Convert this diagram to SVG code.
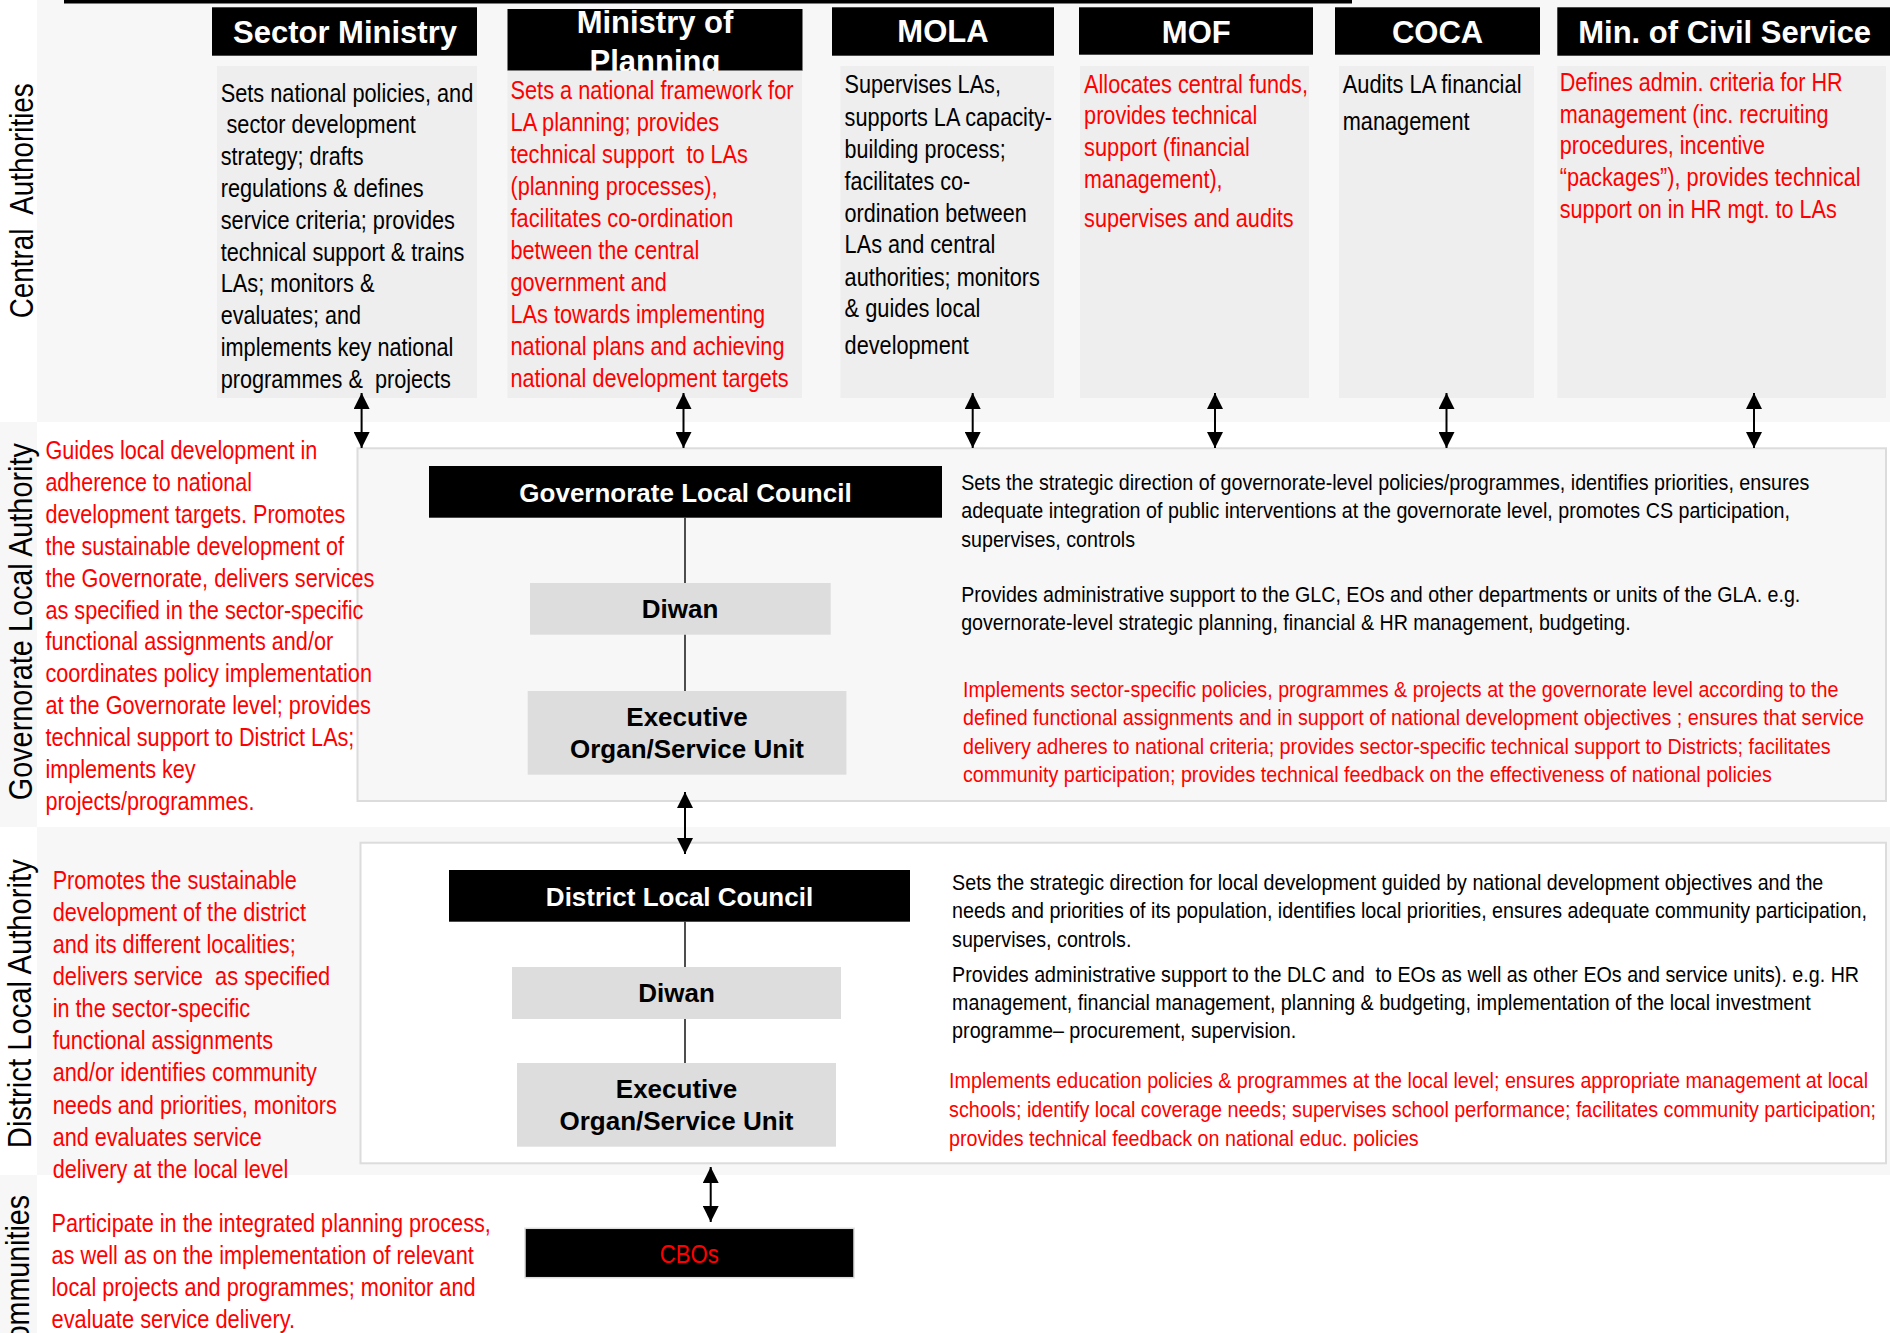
<svg xmlns="http://www.w3.org/2000/svg" width="1890" height="1333" viewBox="0 0 1890 1333">
<defs>
<style>
.bg{fill:#f7f7f7}
.hdr{fill:#000}
.desc{fill:#eeeeee}
.unit{fill:#dddddd}
.ht{font-family:"Liberation Sans",Arial,sans-serif;font-weight:bold;font-size:31px;fill:#fff;text-anchor:middle}
.nt{font-family:"Liberation Sans",Arial,sans-serif;font-weight:bold;font-size:26px;text-anchor:middle}
.w{fill:#fff}
.k{fill:#000}
.t{font-family:"Liberation Sans Narrow","Arial Narrow","Liberation Sans",Arial,sans-serif;font-size:26px}
.s{font-size:22px}
.r{fill:#ff0000}
.lbl{font-family:"Liberation Sans Narrow","Arial Narrow","Liberation Sans",Arial,sans-serif;font-size:34px;fill:#000;text-anchor:middle}
.conn{stroke:#222;stroke-width:1.6;fill:none}
.arr{stroke:#000;stroke-width:2;fill:none;marker-start:url(#ah);marker-end:url(#ah)}
</style>
<marker id="ah" viewBox="0 0 16 16" refX="16" refY="8" markerWidth="16" markerHeight="16" markerUnits="userSpaceOnUse" orient="auto-start-reverse">
<path d="M0,0 L16,8 L0,16 z" fill="#000"/>
</marker>
</defs>

<g id="bands">
<rect x="0" y="0" width="1890" height="1333" fill="#fff"/>
<rect class="bg" x="37" y="0" width="1853" height="422"/>
<rect class="bg" x="0" y="422" width="37" height="405"/>
<rect class="bg" x="37" y="827" width="1853" height="348"/>
<rect class="bg" x="0" y="1175" width="37" height="158"/>
<rect x="64" y="0" width="1288" height="3.5" fill="#000"/>
<text class="lbl" transform="translate(33.3,200.8) rotate(-90)" textLength="235" lengthAdjust="spacingAndGlyphs" xml:space="preserve">Central  Authorities</text>
<text class="lbl" transform="translate(31.5,621.7) rotate(-90)" textLength="357" lengthAdjust="spacingAndGlyphs">Governorate Local Authority</text>
<text class="lbl" transform="translate(30.5,1003.7) rotate(-90)" textLength="289" lengthAdjust="spacingAndGlyphs">District Local Authority</text>
<text class="lbl" transform="translate(29,1278.5) rotate(-90)" textLength="167" lengthAdjust="spacingAndGlyphs">Communities</text>
</g>

<g id="sector-ministry">
<rect class="hdr" x="212" y="7.3" width="265" height="48.4"/>
<text class="ht" x="345" y="42.5">Sector Ministry</text>
<rect class="desc" x="217" y="66" width="260" height="332"/>
<g class="t k">
<text x="220.7" y="101.5" textLength="252.6" lengthAdjust="spacingAndGlyphs">Sets national policies, and</text>
<text x="226.5" y="133.3" textLength="189.3" lengthAdjust="spacingAndGlyphs">sector development</text>
<text x="220.7" y="165.1" textLength="142.8" lengthAdjust="spacingAndGlyphs">strategy; drafts</text>
<text x="220.7" y="196.9" textLength="203" lengthAdjust="spacingAndGlyphs">regulations &amp; defines</text>
<text x="220.7" y="228.7" textLength="234.3" lengthAdjust="spacingAndGlyphs">service criteria; provides</text>
<text x="220.7" y="260.5" textLength="243.7" lengthAdjust="spacingAndGlyphs">technical support &amp; trains</text>
<text x="220.7" y="292.3" textLength="153.8" lengthAdjust="spacingAndGlyphs">LAs; monitors &amp;</text>
<text x="220.7" y="324.1" textLength="140.2" lengthAdjust="spacingAndGlyphs">evaluates; and</text>
<text x="220.7" y="355.9" textLength="232.7" lengthAdjust="spacingAndGlyphs">implements key national</text>
<text x="220.7" y="387.7" textLength="230.1" lengthAdjust="spacingAndGlyphs" xml:space="preserve">programmes &amp;  projects</text>
</g>
</g>

<g id="ministry-of-planning">
<rect class="hdr" x="507.5" y="9" width="295" height="61.7"/>
<text class="ht" x="655" y="33.3">Ministry of</text>
<text class="ht" x="655" y="72">Planning</text>
<rect class="desc" x="507.5" y="70.7" width="294.5" height="327.3"/>
<g class="t r">
<text x="510.5" y="99.3" textLength="283" lengthAdjust="spacingAndGlyphs">Sets a national framework for</text>
<text x="510.5" y="131.2" textLength="208.7" lengthAdjust="spacingAndGlyphs">LA planning; provides</text>
<text x="510.5" y="163.2" textLength="237.4" lengthAdjust="spacingAndGlyphs" xml:space="preserve">technical support  to LAs</text>
<text x="510.5" y="195.1" textLength="207.1" lengthAdjust="spacingAndGlyphs">(planning processes),</text>
<text x="510.5" y="227" textLength="222.8" lengthAdjust="spacingAndGlyphs">facilitates co-ordination</text>
<text x="510.5" y="258.9" textLength="188.8" lengthAdjust="spacingAndGlyphs">between the central</text>
<text x="510.5" y="290.9" textLength="156.4" lengthAdjust="spacingAndGlyphs">government and</text>
<text x="510.5" y="322.8" textLength="254.7" lengthAdjust="spacingAndGlyphs">LAs towards implementing</text>
<text x="510.5" y="354.7" textLength="274" lengthAdjust="spacingAndGlyphs">national plans and achieving</text>
<text x="510.5" y="386.7" textLength="278.2" lengthAdjust="spacingAndGlyphs">national development targets</text>
</g>
</g>

<g id="mola">
<rect class="hdr" x="832" y="7.3" width="222" height="48.4"/>
<text class="ht" x="943" y="41.5">MOLA</text>
<rect class="desc" x="840.5" y="66" width="213.5" height="332"/>
<g class="t k">
<text x="844.6" y="93.3" textLength="156.3" lengthAdjust="spacingAndGlyphs">Supervises LAs,</text>
<text x="844.6" y="125.5" textLength="207.4" lengthAdjust="spacingAndGlyphs">supports LA capacity-</text>
<text x="844.6" y="157.7" textLength="161" lengthAdjust="spacingAndGlyphs">building process;</text>
<text x="844.6" y="189.5" textLength="125.6" lengthAdjust="spacingAndGlyphs">facilitates co-</text>
<text x="844.6" y="221.5" textLength="182.2" lengthAdjust="spacingAndGlyphs">ordination between</text>
<text x="844.6" y="253.3" textLength="150.8" lengthAdjust="spacingAndGlyphs">LAs and central</text>
<text x="844.6" y="285.5" textLength="195.2" lengthAdjust="spacingAndGlyphs">authorities; monitors</text>
<text x="844.6" y="317.3" textLength="135.8" lengthAdjust="spacingAndGlyphs">&amp; guides local</text>
<text x="844.6" y="354" textLength="124.2" lengthAdjust="spacingAndGlyphs">development</text>
</g>
</g>

<g id="mof">
<rect class="hdr" x="1079" y="7.3" width="234" height="47.4"/>
<text class="ht" x="1196.3" y="42.5">MOF</text>
<rect class="desc" x="1080" y="66" width="229" height="332"/>
<g class="t r">
<text x="1084.1" y="92.7" textLength="223.8" lengthAdjust="spacingAndGlyphs">Allocates central funds,</text>
<text x="1084.1" y="124.3" textLength="173.3" lengthAdjust="spacingAndGlyphs">provides technical</text>
<text x="1084.1" y="156" textLength="165.8" lengthAdjust="spacingAndGlyphs">support (financial</text>
<text x="1084.1" y="188.3" textLength="138.5" lengthAdjust="spacingAndGlyphs">management),</text>
<text x="1084.1" y="226.7" textLength="209.5" lengthAdjust="spacingAndGlyphs">supervises and audits</text>
</g>
</g>

<g id="coca">
<rect class="hdr" x="1335" y="7.3" width="205" height="47.4"/>
<text class="ht" x="1437.6" y="42.5">COCA</text>
<rect class="desc" x="1339" y="66" width="195" height="332"/>
<g class="t k">
<text x="1342.7" y="92.7" textLength="178.8" lengthAdjust="spacingAndGlyphs">Audits LA financial</text>
<text x="1342.7" y="130" textLength="126.9" lengthAdjust="spacingAndGlyphs">management</text>
</g>
</g>

<g id="min-civil-service">
<rect class="hdr" x="1557.3" y="7.3" width="332.7" height="48.4"/>
<text class="ht" x="1724.7" y="43">Min. of Civil Service</text>
<rect class="desc" x="1557.3" y="66" width="328.7" height="332"/>
<g class="t r">
<text x="1559.7" y="90.7" textLength="283" lengthAdjust="spacingAndGlyphs">Defines admin. criteria for HR</text>
<text x="1559.7" y="122.7" textLength="268.9" lengthAdjust="spacingAndGlyphs">management (inc. recruiting</text>
<text x="1559.7" y="154.3" textLength="205.4" lengthAdjust="spacingAndGlyphs">procedures, incentive</text>
<text x="1559.7" y="186.3" textLength="300.9" lengthAdjust="spacingAndGlyphs">“packages”), provides technical</text>
<text x="1559.7" y="218.3" textLength="277" lengthAdjust="spacingAndGlyphs">support on in HR mgt. to LAs</text>
</g>
</g>

<g id="governorate-box">
<rect x="357.5" y="448.3" width="1528.5" height="352.7" fill="#f7f7f7" stroke="#dcdcdc" stroke-width="2"/>
<g class="t s k">
<text x="961.2" y="490" textLength="848.2" lengthAdjust="spacingAndGlyphs">Sets the strategic direction of governorate-level policies/programmes, identifies priorities, ensures</text>
<text x="961.2" y="518.3" textLength="828.8" lengthAdjust="spacingAndGlyphs">adequate integration of public interventions at the governorate level, promotes CS participation,</text>
<text x="961.2" y="546.7" textLength="173.9" lengthAdjust="spacingAndGlyphs">supervises, controls</text>
<text x="961.2" y="601.5" textLength="839.1" lengthAdjust="spacingAndGlyphs">Provides administrative support to the GLC, EOs and other departments or units of the GLA. e.g.</text>
<text x="961.2" y="629.8" textLength="669.5" lengthAdjust="spacingAndGlyphs">governorate-level strategic planning, financial &amp; HR management, budgeting.</text>
</g>
<g class="t s r">
<text x="963" y="696.7" textLength="875.5" lengthAdjust="spacingAndGlyphs">Implements sector-specific policies, programmes &amp; projects at the governorate level according to the</text>
<text x="963" y="725" textLength="901" lengthAdjust="spacingAndGlyphs">defined functional assignments and in support of national development objectives ; ensures that service</text>
<text x="963" y="753.7" textLength="867.6" lengthAdjust="spacingAndGlyphs">delivery adheres to national criteria; provides sector-specific technical support to Districts; facilitates</text>
<text x="963" y="782.3" textLength="808.9" lengthAdjust="spacingAndGlyphs">community participation; provides technical feedback on the effectiveness of national policies</text>
</g>
</g>

<g id="governorate-text">
<g class="t r">
<text x="45.4" y="459" textLength="272" lengthAdjust="spacingAndGlyphs">Guides local development in</text>
<text x="45.4" y="490.9" textLength="206.6" lengthAdjust="spacingAndGlyphs">adherence to national</text>
<text x="45.4" y="522.8" textLength="300" lengthAdjust="spacingAndGlyphs">development targets. Promotes</text>
<text x="45.4" y="554.7" textLength="298.7" lengthAdjust="spacingAndGlyphs">the sustainable development of</text>
<text x="45.4" y="586.6" textLength="329" lengthAdjust="spacingAndGlyphs">the Governorate, delivers services</text>
<text x="45.4" y="618.5" textLength="318" lengthAdjust="spacingAndGlyphs">as specified in the sector-specific</text>
<text x="45.4" y="650.4" textLength="287.8" lengthAdjust="spacingAndGlyphs">functional assignments and/or</text>
<text x="45.4" y="682.3" textLength="326.6" lengthAdjust="spacingAndGlyphs">coordinates policy implementation</text>
<text x="45.4" y="714.2" textLength="325.4" lengthAdjust="spacingAndGlyphs">at the Governorate level; provides</text>
<text x="45.4" y="746.1" textLength="309" lengthAdjust="spacingAndGlyphs">technical support to District LAs;</text>
<text x="45.4" y="778" textLength="150.3" lengthAdjust="spacingAndGlyphs">implements key</text>
<text x="45.4" y="809.9" textLength="209" lengthAdjust="spacingAndGlyphs">projects/programmes.</text>
</g>
</g>

<g id="governorate-local-council">
<rect class="hdr" x="429" y="466" width="513" height="51.7"/>
<text class="nt w" x="685.5" y="501.7">Governorate Local Council</text>
</g>
<g id="governorate-diwan">
<rect class="unit" x="530" y="583" width="300.7" height="51.7"/>
<text class="nt k" x="680" y="618.3">Diwan</text>
</g>
<g id="governorate-executive">
<rect class="unit" x="527.7" y="691" width="318.7" height="83.7"/>
<text class="nt k" x="687" y="726">Executive</text>
<text class="nt k" x="687" y="758.3">Organ/Service Unit</text>
</g>

<g id="district-box">
<rect x="360.5" y="842.7" width="1525.5" height="320.6" fill="#fff" stroke="#dcdcdc" stroke-width="2"/>
<g class="t s k">
<text x="952.1" y="890" textLength="871.2" lengthAdjust="spacingAndGlyphs">Sets the strategic direction for local development guided by national development objectives and the</text>
<text x="952.1" y="918.3" textLength="914.9" lengthAdjust="spacingAndGlyphs">needs and priorities of its population, identifies local priorities, ensures adequate community participation,</text>
<text x="952.1" y="946.7" textLength="179.3" lengthAdjust="spacingAndGlyphs">supervises, controls.</text>
<text x="952.1" y="981.7" textLength="907" lengthAdjust="spacingAndGlyphs" xml:space="preserve">Provides administrative support to the DLC and  to EOs as well as other EOs and service units). e.g. HR</text>
<text x="952.1" y="1010" textLength="858.5" lengthAdjust="spacingAndGlyphs">management, financial management, planning &amp; budgeting, implementation of the local investment</text>
<text x="952.1" y="1038.3" textLength="344.1" lengthAdjust="spacingAndGlyphs">programme– procurement, supervision.</text>
</g>
<g class="t s r">
<text x="949.1" y="1088.3" textLength="919.1" lengthAdjust="spacingAndGlyphs">Implements education policies &amp; programmes at the local level; ensures appropriate management at local</text>
<text x="949.1" y="1117.3" textLength="927" lengthAdjust="spacingAndGlyphs">schools; identify local coverage needs; supervises school performance; facilitates community participation;</text>
<text x="949.1" y="1146" textLength="469.6" lengthAdjust="spacingAndGlyphs">provides technical feedback on national educ. policies</text>
</g>
</g>

<g id="district-text">
<g class="t r">
<text x="52.7" y="889" textLength="244.2" lengthAdjust="spacingAndGlyphs">Promotes the sustainable</text>
<text x="52.7" y="921.1" textLength="253.3" lengthAdjust="spacingAndGlyphs">development of the district</text>
<text x="52.7" y="953.1" textLength="243" lengthAdjust="spacingAndGlyphs">and its different localities;</text>
<text x="52.7" y="985.2" textLength="277.5" lengthAdjust="spacingAndGlyphs" xml:space="preserve">delivers service  as specified</text>
<text x="52.7" y="1017.3" textLength="197.5" lengthAdjust="spacingAndGlyphs">in the sector-specific</text>
<text x="52.7" y="1049.3" textLength="220.5" lengthAdjust="spacingAndGlyphs">functional assignments</text>
<text x="52.7" y="1081.4" textLength="264.2" lengthAdjust="spacingAndGlyphs">and/or identifies community</text>
<text x="52.7" y="1113.5" textLength="284.2" lengthAdjust="spacingAndGlyphs">needs and priorities, monitors</text>
<text x="52.7" y="1145.6" textLength="209" lengthAdjust="spacingAndGlyphs">and evaluates service</text>
<text x="52.7" y="1177.6" textLength="235.7" lengthAdjust="spacingAndGlyphs">delivery at the local level</text>
</g>
</g>

<g id="district-local-council">
<rect class="hdr" x="449" y="870" width="461" height="51.7"/>
<text class="nt w" x="679.5" y="906">District Local Council</text>
</g>
<g id="district-diwan">
<rect class="unit" x="512" y="967" width="329" height="52"/>
<text class="nt k" x="676.5" y="1001.7">Diwan</text>
</g>
<g id="district-executive">
<rect class="unit" x="517" y="1063" width="319" height="83.7"/>
<text class="nt k" x="676.5" y="1098.3">Executive</text>
<text class="nt k" x="676.5" y="1130">Organ/Service Unit</text>
</g>

<g id="communities-text">
<g class="t r">
<text x="51.5" y="1232.3" textLength="439.3" lengthAdjust="spacingAndGlyphs">Participate in the integrated planning process,</text>
<text x="51.5" y="1264.3" textLength="422.3" lengthAdjust="spacingAndGlyphs">as well as on the implementation of relevant</text>
<text x="51.5" y="1296.3" textLength="424.1" lengthAdjust="spacingAndGlyphs">local projects and programmes; monitor and</text>
<text x="51.5" y="1328.3" textLength="243.6" lengthAdjust="spacingAndGlyphs">evaluate service delivery.</text>
</g>
</g>

<g id="cbos">
<rect x="525" y="1228.3" width="329" height="49.4" fill="#000" stroke="#dddddd" stroke-width="1.5"/>
<text class="t r" x="689.3" y="1263.3" text-anchor="middle" textLength="59" lengthAdjust="spacingAndGlyphs">CBOs</text>
</g>

<g id="connectors">
<line class="conn" x1="685" y1="517.7" x2="685" y2="583"/>
<line class="conn" x1="685" y1="634.7" x2="685" y2="691"/>
<line class="conn" x1="685" y1="921.7" x2="685" y2="967"/>
<line class="conn" x1="685" y1="1019" x2="685" y2="1063"/>
<line class="arr" x1="361.6" y1="393" x2="361.6" y2="448"/>
<line class="arr" x1="683.5" y1="393" x2="683.5" y2="448"/>
<line class="arr" x1="972.7" y1="393" x2="972.7" y2="448"/>
<line class="arr" x1="1215" y1="393" x2="1215" y2="448"/>
<line class="arr" x1="1446.5" y1="393" x2="1446.5" y2="448"/>
<line class="arr" x1="1754" y1="393" x2="1754" y2="448"/>
<line class="arr" x1="685" y1="792" x2="685" y2="854"/>
<line class="arr" x1="710.7" y1="1167" x2="710.7" y2="1222"/>
</g>
</svg>
